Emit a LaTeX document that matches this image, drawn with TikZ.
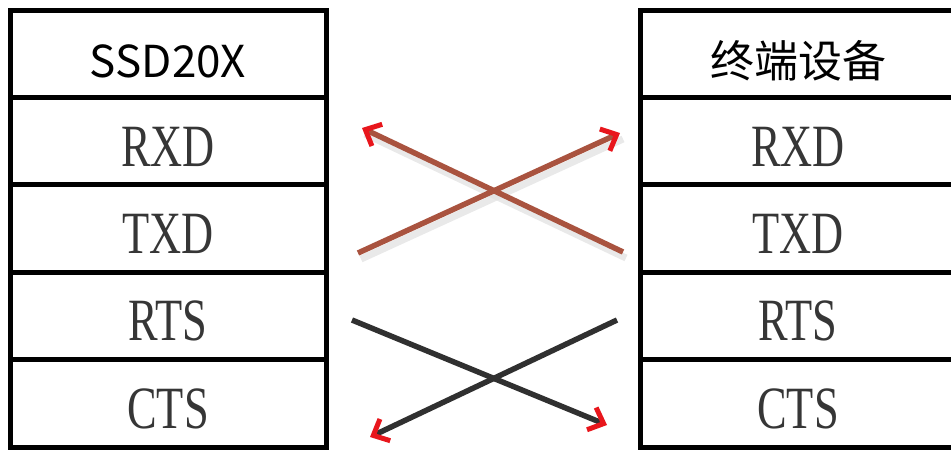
\documentclass[tikz,border=0pt]{standalone}
\usepackage{fontspec}
\setmainfont{Liberation Serif}
\newfontfamily\cjk{Noto Sans CJK SC}
\newfontfamily\pinfont[FakeStretch=0.74]{Liberation Serif}
\usetikzlibrary{arrows.meta,calc}
\definecolor{wirered}{HTML}{A9533F}
\definecolor{wiregray}{HTML}{303030}
\definecolor{tipred}{HTML}{E8161C}
\definecolor{pingray}{HTML}{363636}
\tikzset{
  cell/.style={draw=black, line width=5pt, minimum width=316pt, minimum height=87.4pt, inner sep=0pt},
  headtext/.style={font=\cjk\fontsize{44}{44}\selectfont, text height=48pt, text depth=0pt},
  pintext/.style={font=\pinfont\fontsize{60}{60}\selectfont, text=pingray, text height=50pt, text depth=0pt},
  wire/.style={line width=5.5pt, -{Straight Barb[color=tipred, length=13pt, width=24pt, line width=5pt]}},
  wireshadow/.style={line width=7pt, black!12, opacity=0.7}
}
\begin{document}
\begin{tikzpicture}[x=1pt, y=-1pt]
\useasboundingbox (0,0) rectangle (951,451);
% the two pin tables
\node[cell, headtext] (lhead) at (168,53.7) {SSD20X};
\node[cell, headtext] (rhead) at (798,53.7) {终端设备};
\foreach \pin [count=\i] in {RXD,TXD,RTS,CTS} {
  \node[cell, pintext] (l\pin) at (168,{53.7+87.4*\i}) {\pin};
  \node[cell, pintext] (r\pin) at (798,{53.7+87.4*\i}) {\pin};
}
% wire ends
\coordinate (txdout) at (358,253);
\coordinate (rxdin) at (620,133);
\coordinate (txdback) at (623,252);
\coordinate (rxdback) at (362,128);
\coordinate (rtsout) at (352,320);
\coordinate (ctsin) at (607,425);
\coordinate (rtsback) at (617,320);
\coordinate (ctsback) at (370,437);
% shadows of the upper wires
\draw[wireshadow] ($(txdout)+(3,6)$) -- ($(rxdin)+(3,6)$);
\draw[wireshadow] ($(txdback)+(3,6)$) -- ($(rxdback)+(3,6)$);
% crossed wires
\draw[wire, wirered] (txdout) -- (rxdin);
\draw[wire, wirered] (txdback) -- (rxdback);
\draw[wire, wiregray] (rtsout) -- (ctsin);
\draw[wire, wiregray] (rtsback) -- (ctsback);
\end{tikzpicture}
\end{document}
